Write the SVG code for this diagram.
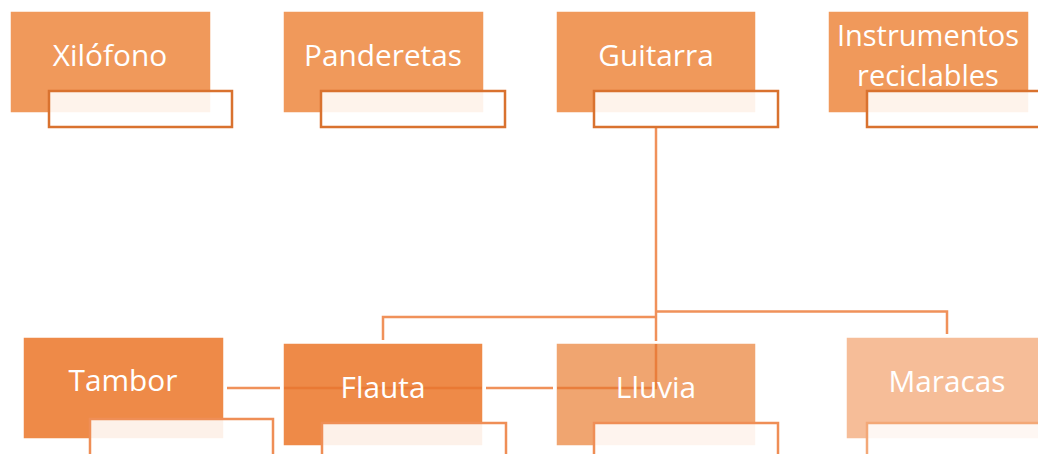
<svg xmlns="http://www.w3.org/2000/svg" width="1038" height="454" viewBox="0 0 1038 454">
<style>
.box{stroke:#ffffff;stroke-width:1.5}
.lbl{fill:#ffffff;fill-opacity:0.88;stroke-width:2.5}
.lt{stroke:#D9722F}
.lb{stroke:#EF8E56;stroke-width:2.5}
.t{font-family:"Open Sans","Liberation Sans",sans-serif;font-size:29.8px;fill:#ffffff;text-anchor:middle}
.c{stroke:#F0915A;stroke-width:2.5;fill:none}
.ci{stroke:#E7742F;stroke-width:2.5;fill:none;opacity:0.8}
</style>
<rect width="1038" height="454" fill="#ffffff"/>
<g id="connectors">
<line class="c" x1="656" y1="127" x2="656" y2="341"/>
<polyline class="c" points="383,340 383,317 656,317"/>
<polyline class="c" points="656,311.5 947,311.5 947,334"/>
<line class="c" x1="227" y1="388" x2="280" y2="388"/>
<line class="c" x1="486" y1="388" x2="553" y2="388"/>
</g>
<g id="node-xilofono">
<rect class="box" x="10" y="11" width="201" height="102" fill="#F0995B"/>
<rect class="lbl lt" x="49" y="91" width="183" height="36"/>
<text class="t" x="110" y="66">Xilófono</text>
</g>
<g id="node-panderetas">
<rect class="box" x="283" y="11" width="201" height="102" fill="#F0995B"/>
<rect class="lbl lt" x="321" y="91" width="184" height="36"/>
<text class="t" x="383" y="66">Panderetas</text>
</g>
<g id="node-guitarra">
<rect class="box" x="556" y="11" width="200" height="102" fill="#F0995B"/>
<rect class="lbl lt" x="594" y="91" width="184" height="36"/>
<text class="t" x="656" y="66">Guitarra</text>
</g>
<g id="node-instrumentos">
<rect class="box" x="828" y="11" width="201" height="102" fill="#F0995B"/>
<rect class="lbl lt" x="867" y="91" width="190" height="36"/>
<text class="t" x="928" y="46" style="font-size:29px">Instrumentos</text>
<text class="t" x="928" y="86" style="font-size:29px">reciclables</text>
</g>
<g id="node-tambor">
<rect class="box" x="23" y="337" width="201" height="102" fill="#EE8A48"/>
<rect class="lbl lb" x="90" y="419" width="183" height="50"/>
<text class="t" x="123" y="391">Tambor</text>
</g>
<g id="node-flauta">
<rect class="box" x="283" y="343" width="200" height="103" fill="#EE8A48"/>
<line class="ci" x1="284" y1="388" x2="482" y2="388"/>
<rect class="lbl lb" x="322" y="423" width="184" height="50"/>
<text class="t" x="383" y="398">Flauta</text>
</g>
<g id="node-lluvia">
<rect class="box" x="556" y="343" width="200" height="103" fill="#F0A570"/>
<polyline class="ci" points="557,388 656,388 656,344"/>
<rect class="lbl lb" x="594" y="423" width="184" height="50"/>
<text class="t" x="656" y="398">Lluvia</text>
</g>
<g id="node-maracas">
<rect class="box" x="846" y="337" width="201" height="102" fill="#F6BD98"/>
<rect class="lbl lb" x="867" y="423" width="190" height="50" style="stroke:#F3A877"/>
<text class="t" x="947" y="392">Maracas</text>
</g>
</svg>
